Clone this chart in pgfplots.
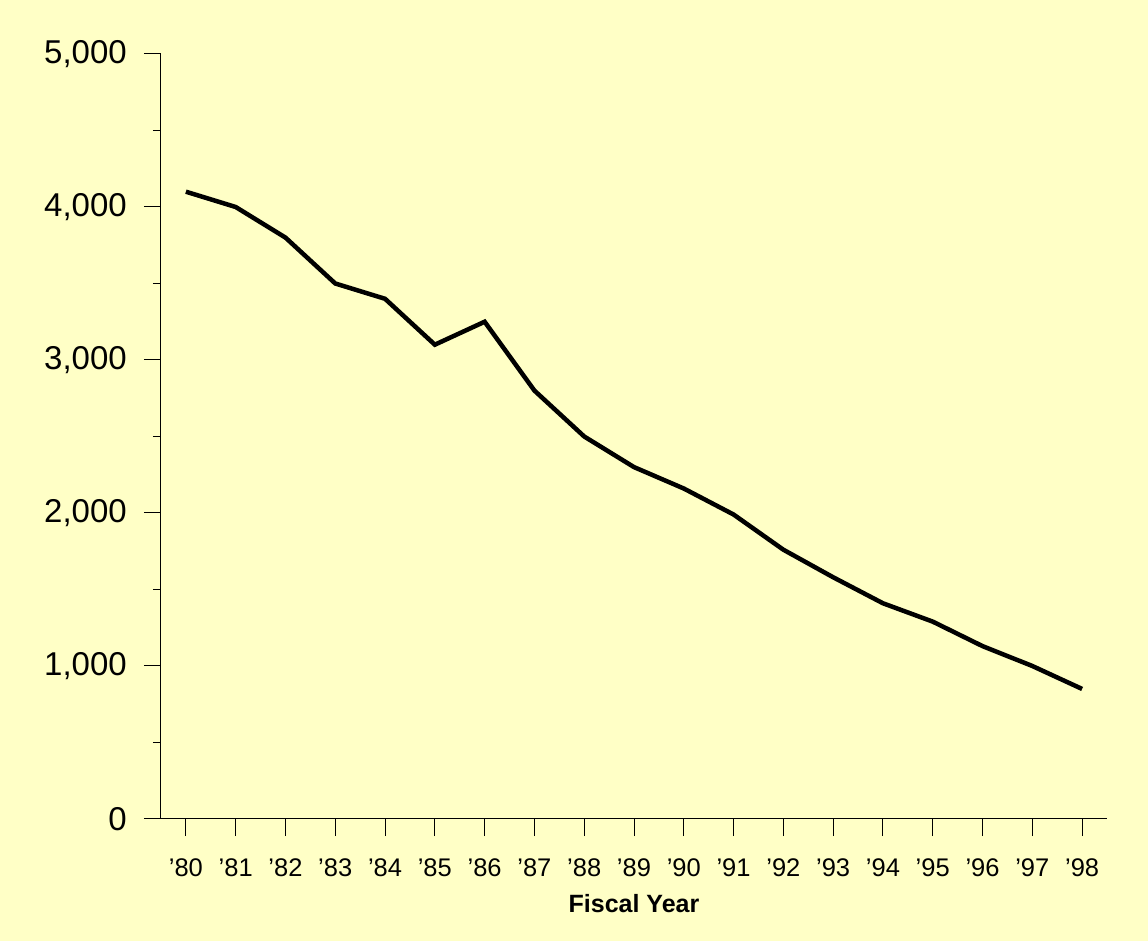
\documentclass[border=0pt]{standalone}
\usepackage{fontspec}
\setmainfont{Liberation Sans}
\usepackage{pgfplots}
\pgfplotsset{compat=1.18}
\definecolor{bg}{RGB}{255,255,198}
\begin{document}
\begin{tikzpicture}
\fill[bg] (-161pt,-122pt) rectangle (987pt,819pt);
\useasboundingbox (-161pt,-122pt) rectangle (987pt,819pt);
\begin{axis}[
  scale only axis, width=946pt, height=765pt,
  xmin=-0.5, xmax=18.5, ymin=0, ymax=5000,
  axis lines=left,
  axis line style={-, line width=1pt, black},
  xtick={0,...,18},
  xticklabels={'80,'81,'82,'83,'84,'85,'86,'87,'88,'89,'90,'91,'92,'93,'94,'95,'96,'97,'98},
  ytick={0,1000,2000,3000,4000,5000},
  minor ytick={500,1500,2500,3500,4500},
  tick align=outside,
  major tick length=17pt, minor tick length=8pt,
  tick style={black, line width=1pt},
  /pgf/number format/assume math mode=true,
  /pgf/number format/1000 sep={,},
  yticklabel style={font=\fontsize{33}{38}\selectfont, inner sep=1pt, xshift=-16pt},
  xticklabel style={font=\fontsize{25.5}{30}\selectfont, inner sep=2pt, yshift=-20pt},
  xlabel={Fiscal Year},
  xlabel style={font=\bfseries\fontsize{25}{30}\selectfont, at={(axis description cs:0.5,0)}, anchor=base, yshift=-93pt},
  clip=false,
]
\addplot[black, line width=4.5pt] coordinates {
(0,4100) (1,4000) (2,3800) (3,3500) (4,3400) (5,3100) (6,3250) (7,2800) (8,2500) (9,2300)
(10,2160) (11,1990) (12,1760) (13,1580) (14,1410) (15,1290) (16,1130) (17,1000) (18,850)
};
\end{axis}
\end{tikzpicture}
\end{document}
